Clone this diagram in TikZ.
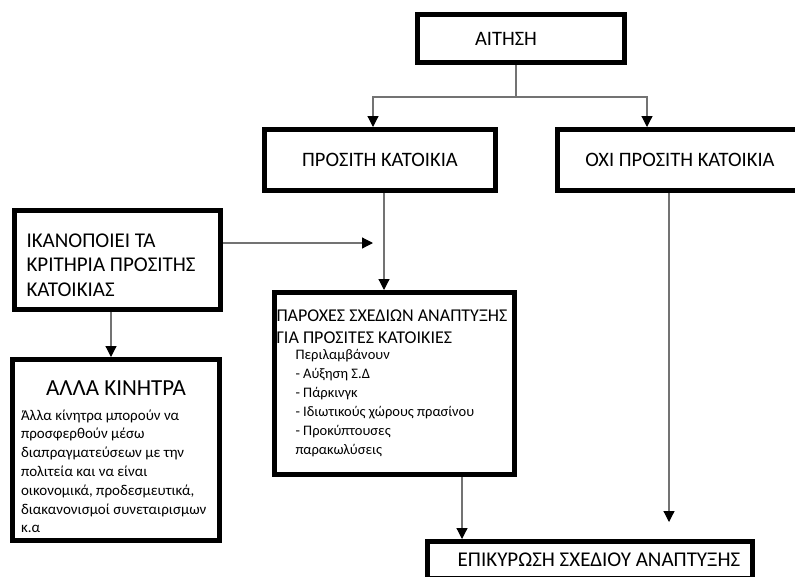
\documentclass[tikz,border=0pt]{standalone}
\usepackage{fontspec}
\setmainfont{Carlito}
\usetikzlibrary{arrows.meta,positioning}

\begin{document}
\begin{tikzpicture}[x=1pt,y=-1pt,
	box/.style={draw,line width=5pt,inner sep=0pt,font=\fontsize{20.5}{24}\selectfont},
	link/.style={draw=black!55,line width=1.2pt},
	arrow/.style={link,-{Triangle[width=11pt,length=11pt,color=black]}}]
	\useasboundingbox (0,0) rectangle (795,576);

	%Top of the tree
	\node [box,minimum width=207pt,minimum height=48pt] (aithsh) at (521,38.5) {ΑΙΤΗΣΗ\hspace*{30pt}};
	\node [box,minimum width=231pt,minimum height=61pt] (prositi) at (380,160) {ΠΡΟΣΙΤΗ ΚΑΤΟΙΚΙΑ};
	\node [box,minimum width=245pt,minimum height=61pt] (oxi) at (680,160) {ΟΧΙ ΠΡΟΣΙΤΗ ΚΑΤΟΙΚΙΑ};

	%Left branch
	\node [box,minimum width=206pt,minimum height=99pt] (ikano) at (117.5,260)
		{\parbox[c][94pt][t]{182pt}{\raggedright\vspace*{20.5pt}\fontsize{21}{24.5}\selectfont
		ΙΚΑΝΟΠΟΙΕΙ ΤΑ\\ΚΡΙΤΗΡΙΑ ΠΡΟΣΙΤΗΣ\\ΚΑΤΟΙΚΙΑΣ}};
	\node [box,minimum width=207pt,minimum height=181pt] (alla) at (116,450)
		{\parbox[c][176pt][t]{190pt}{\raggedright\vspace*{19pt}
		{\centering\fontsize{23}{26}\selectfont ΑΛΛΑ ΚΙΝΗΤΡΑ\par}\vspace{5.5pt}
		{\fontsize{15}{18.8}\selectfont Άλλα κίνητρα μπορούν να\\προσφερθούν μέσω\\διαπραγματεύσεων με την\\πολιτεία και να είναι\\οικονομικά, προδεσμευτικά,\\διακανονισμοί συνεταιρισμων\\κ.α\par}}};

	%Middle branch
	\node [box,minimum width=240pt,minimum height=182pt] (paroxes) at (394.5,383.5)
		{\parbox[c][176pt][t]{236pt}{\raggedright\vspace*{14.5pt}\fontsize{18}{22}\selectfont
		ΠΑΡΟΧΕΣ ΣΧΕΔΙΩΝ ΑΝΑΠΤΥΞΗΣ\\ΓΙΑ ΠΡΟΣΙΤΕΣ ΚΑΤΟΙΚΙΕΣ\par\vspace{-3.5pt}
		{\fontsize{14.5}{19}\selectfont\leftskip=19pt\relax
		\noindent Περιλαμβάνουν\\- Αύξηση Σ.Δ\\- Πάρκινγκ\\- Ιδιωτικούς χώρους πρασίνου\\- Προκύπτουσες\\παρακωλύσεις\par}}};
	\node [box,minimum width=325pt,minimum height=37pt,font=\fontsize{21}{24}\selectfont] (epik) at (590,560)
		{\hspace*{18pt}ΕΠΙΚΥΡΩΣΗ ΣΧΕΔΙΟΥ ΑΝΑΠΤΥΞΗΣ};

	%Connectors
	\coordinate (split) at (516,97);
	\coordinate (leftdrop) at (373,97);
	\coordinate (rightdrop) at (647,97);
	\coordinate (meet) at (373,243);
	\coordinate (oxiend) at (669,522);
	\draw [link] (aithsh.south -| split) -- (split);
	\draw [arrow] (split) -| (leftdrop |- prositi.north);
	\draw [arrow] (split) -| (rightdrop |- oxi.north);
	\draw [arrow] ([xshift=4pt]prositi.south) -- ([xshift=4pt]prositi.south |- paroxes.north);
	\draw [arrow] (ikano.east |- meet) -- (meet);
	\draw [arrow] ([xshift=-6.5pt]ikano.south) -- ([xshift=-6.5pt]ikano.south |- alla.north);
	\draw [arrow] ([xshift=67.5pt]paroxes.south) -- ([xshift=67.5pt]paroxes.south |- epik.north);
	\draw [arrow] (oxi.south -| oxiend) -- (oxiend);
\end{tikzpicture}
\end{document}
